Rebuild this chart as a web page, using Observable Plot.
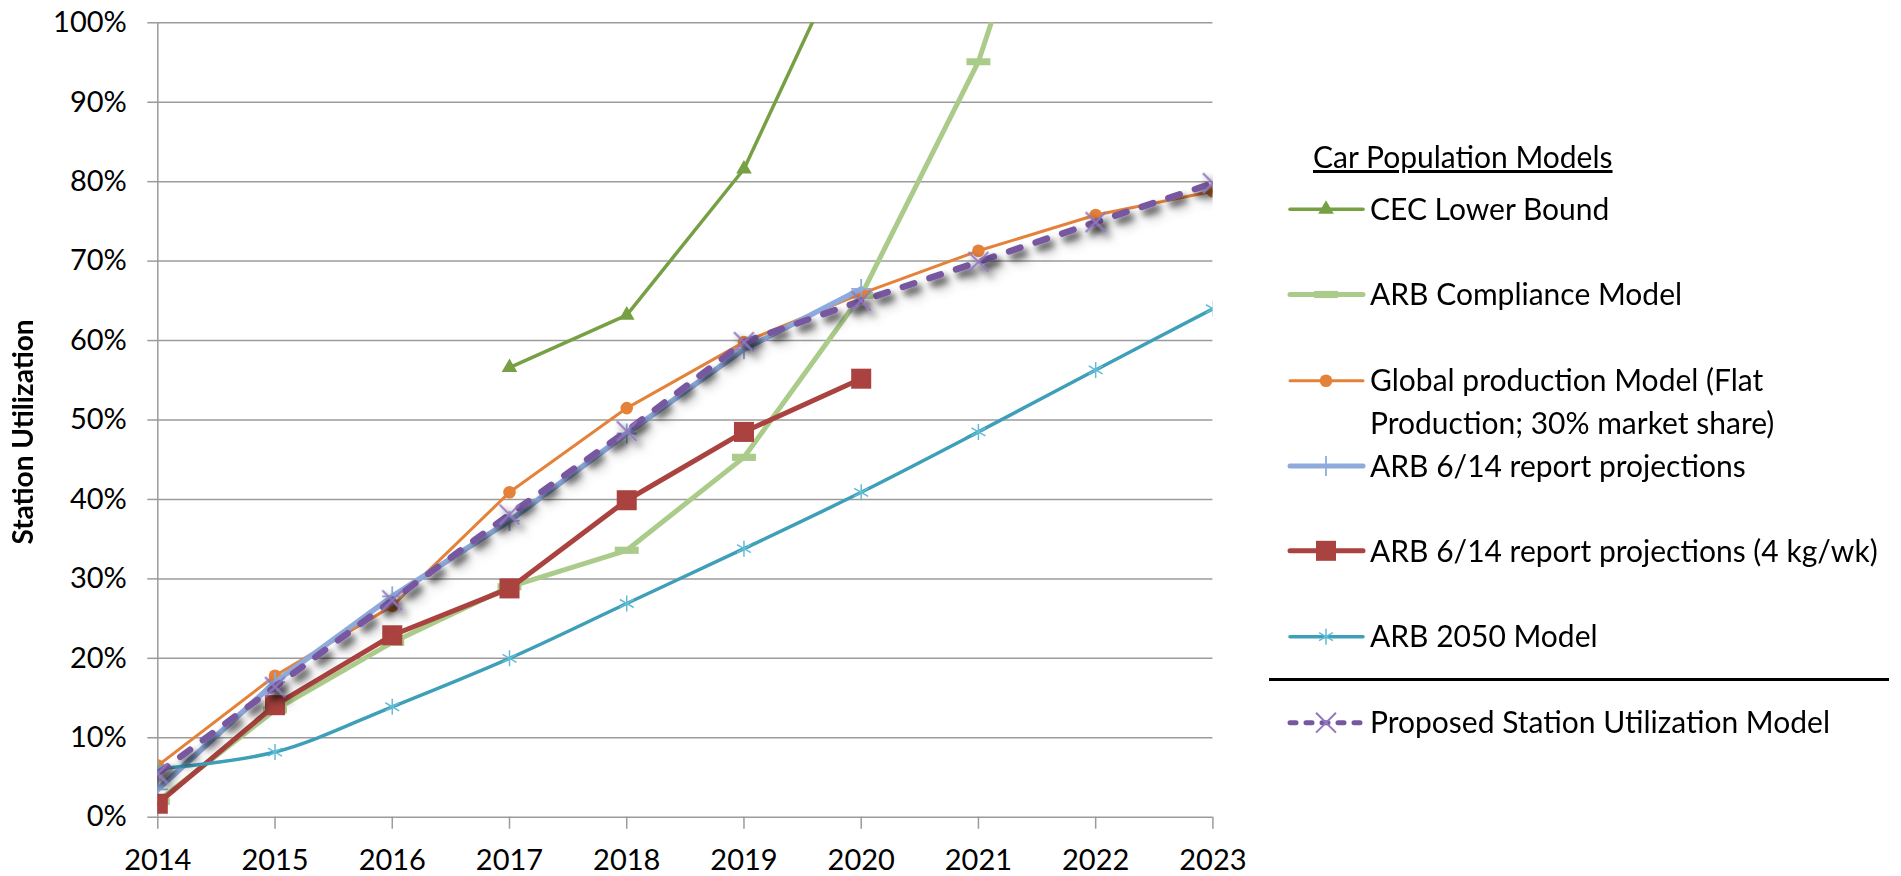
<!DOCTYPE html>
<html>
<head>
<meta charset="utf-8">
<script src="https://cdn.jsdelivr.net/npm/d3@7"></script>
<script src="https://cdn.jsdelivr.net/npm/@observablehq/plot@0.6"></script>
<style>
  html, body { margin: 0; padding: 0; background: #fff; }
  #chart { position: relative; width: 1901px; height: 876px; overflow: hidden; font-family: Lato, sans-serif; }
  #chart svg.overlay { position: absolute; left: 0; top: 0; pointer-events: none; }
</style>
</head>
<body>
<div id="chart"></div>
<script>
// Station utilization (%) by year under each car population model
const years = [2014, 2015, 2016, 2017, 2018, 2019, 2020, 2021, 2022, 2023];
const yTicks = [0, 10, 20, 30, 40, 50, 60, 70, 80, 90, 100];

const cecLowerBound    = [null, null, null, 56.6, 63.2, 81.6, 113.2, null, null, null];
const arbCompliance    = [2.0, 13.5, 22.0, 29.0, 33.6, 45.3, 65.7, 95.1, 140.0, null];
const globalProduction = [6.5, 17.8, 26.6, 40.9, 51.5, 59.8, 65.9, 71.3, 75.8, 78.8];
const arbReport        = [3.5, 17.0, 27.8, 37.3, 48.3, 58.9, 66.5, null, null, null];
const arbReport4kg     = [1.7, 14.1, 22.9, 28.8, 39.9, 48.5, 55.2, null, null, null];
const arb2050          = [6.1, 8.2, 13.9, 20.0, 26.9, 33.8, 40.9, 48.5, 56.3, 64.0];
const proposedModel    = [5.5, 16.4, 27.3, 38.1, 48.6, 59.8, 65.0, 69.9, 74.9, 79.8];

// horizontal bar marker used by the compliance series
const barSymbol = {
  draw(context, size) {
    const w = Math.sqrt(size), h = w * 0.3;
    context.rect(-w / 2, -h / 2, w, h);
  }
};

const series = [
  {name: "CEC Lower Bound", values: cecLowerBound, stroke: "#77A044", width: 3.5,
   symbol: "triangle", r: 5.8, fill: "#77A044", mstroke: "none", mwidth: 0},
  {name: "ARB Compliance Model", values: arbCompliance, stroke: "#AACB89", width: 5,
   symbol: barSymbol, r: 13.5, fill: "#AACB89", mstroke: "none", mwidth: 0},
  {name: ["Global production Model (Flat", "Production; 30% market share)"], values: globalProduction,
   stroke: "#E5823A", width: 3, symbol: "circle", r: 6.3, fill: "#E5823A", mstroke: "none", mwidth: 0},
  {name: "ARB 6/14 report projections", values: arbReport, stroke: "#8FAADC", width: 5.5,
   symbol: "plus", r: 6.5, fill: "none", mstroke: "#8FAADC", mwidth: 1.8},
  {name: "ARB 6/14 report projections (4 kg/wk)", values: arbReport4kg, stroke: "#AA423F", width: 5,
   symbol: "square", r: 11.3, fill: "#AA423F", mstroke: "none", mwidth: 0},
  {name: "ARB 2050 Model", values: arb2050, stroke: "#3E9FB8", width: 3.5, curve: "catmull-rom",
   symbol: "asterisk", r: 7.6, fill: "none", mstroke: "#62BCD6", mwidth: 1.5},
  {name: "Proposed Station Utilization Model", values: proposedModel, stroke: "#7758A0", width: 6.5,
   dash: "12,16", symbol: "times", r: 9.1, fill: "none", mstroke: "#9077BF", mwidth: 2, shadow: true}
];

function rows(s) {
  return years.map((year, i) => ({year, value: s.values[i]})).filter(d => d.value != null);
}

const W = 1901, H = 876;
const marks = [
  Plot.gridY(yTicks, {stroke: "#9b9b9b", strokeOpacity: 1, strokeWidth: 1.5}),
  Plot.axisY(yTicks, {tickSize: 10, tickPadding: 21, fontSize: 29, stroke: "#9b9b9b", strokeWidth: 1.5,
    fill: "#000", tickFormat: d => d + "%", label: null}),
  Plot.axisX(years, {tickSize: 12, tickPadding: 20, fontSize: 29, stroke: "#9b9b9b", strokeWidth: 1.5,
    fill: "#000", tickFormat: d => String(d), label: null}),
  Plot.ruleX([2014], {stroke: "#9b9b9b", strokeWidth: 1.5})
];

for (const s of series) {
  const data = rows(s);
  const tag = s.shadow ? "shadowed" : "series";
  marks.push(Plot.line(data, {
    x: "year", y: "value", stroke: s.stroke, strokeWidth: s.width, curve: s.curve || "linear",
    strokeDasharray: s.dash, strokeLinecap: "round", strokeLinejoin: "round", clip: true,
    ariaDescription: tag
  }));
  marks.push(Plot.dot(data, {
    x: "year", y: "value", symbol: s.symbol, r: s.r, fill: s.fill, stroke: s.mstroke,
    strokeWidth: s.mwidth, clip: true, ariaDescription: tag
  }));
}

const plot = Plot.plot({
  width: W, height: H,
  marginLeft: 157.3, marginRight: W - 1212.4, marginTop: 22.3, marginBottom: H - 816.7,
  x: {type: "linear", domain: [2014, 2023]},
  y: {type: "linear", domain: [0, 100]},
  style: {fontFamily: "Lato, sans-serif", color: "#000", background: "transparent", overflow: "visible"},
  marks
});

// soft drop shadow under the proposed model
const svgNS = "http://www.w3.org/2000/svg";
const defs = document.createElementNS(svgNS, "defs");
defs.innerHTML = `<filter id="dropShadow" x="-20%" y="-20%" width="140%" height="140%" filterUnits="objectBoundingBox">
  <feGaussianBlur in="SourceAlpha" stdDeviation="3.5"/>
  <feOffset dx="4" dy="5" result="blur"/>
  <feFlood flood-color="#000" flood-opacity="0.45"/>
  <feComposite in2="blur" operator="in" result="shadow"/>
  <feMerge><feMergeNode in="shadow"/><feMergeNode in="SourceGraphic"/></feMerge>
</filter>`;
plot.insertBefore(defs, plot.firstChild);
const shadowed = new Set(plot.querySelectorAll('g[aria-description="shadowed"]'));
plot.querySelectorAll('g[stroke="#7758A0"], g[stroke="#9077BF"]').forEach(g => shadowed.add(g));
shadowed.forEach(g => g.setAttribute("filter", "url(#dropShadow)"));

const chart = document.getElementById("chart");
chart.appendChild(plot);

// overlay: axis title and legend
const overlay = d3.select(chart).append("svg")
  .attr("class", "overlay").attr("width", W).attr("height", H)
  .style("font-family", "Lato, sans-serif");

overlay.append("text")
  .attr("transform", "translate(33,432) rotate(-90)")
  .attr("text-anchor", "middle")
  .attr("font-size", 28).attr("font-weight", 700).attr("fill", "#000")
  .text("Station Utilization");

const legendFont = 30;
const capShift = legendFont * 0.358;
overlay.append("text")
  .attr("x", 1313).attr("y", 168)
  .attr("font-size", legendFont).attr("fill", "#000")
  .attr("text-decoration", "underline")
  .text("Car Population Models");

const rowY = [209.3, 294.5, 380.7, 466, 550.8, 636.7, 722.7];
const lineGap = 42.3;
const symbolMap = {triangle: d3.symbolTriangle, circle: d3.symbolCircle, plus: d3.symbolPlus,
  square: d3.symbolSquare, asterisk: d3.symbolAsterisk, times: d3.symbolTimes};

series.forEach((s, i) => {
  const y = rowY[i];
  const g = overlay.append("g");
  g.append("line")
    .attr("x1", 1290).attr("x2", 1363).attr("y1", y).attr("y2", y)
    .attr("stroke", s.stroke).attr("stroke-width", s.dash ? 5 : Math.min(s.width, 5))
    .attr("stroke-linecap", "round")
    .attr("stroke-dasharray", s.dash ? "6,10" : null);
  const type = typeof s.symbol === "string" ? symbolMap[s.symbol] : s.symbol;
  g.append("path")
    .attr("transform", `translate(1326,${y})`)
    .attr("d", d3.symbol(type, Math.PI * s.r * s.r)())
    .attr("fill", s.fill).attr("stroke", s.mstroke === "none" ? null : s.mstroke)
    .attr("stroke-width", s.mwidth);
  const names = Array.isArray(s.name) ? s.name : [s.name];
  names.forEach((t, k) => {
    g.append("text")
      .attr("x", 1370).attr("y", y + capShift + k * lineGap)
      .attr("font-size", legendFont).attr("fill", "#000")
      .text(t);
  });
});

// divider above the proposed model entry
overlay.append("line")
  .attr("x1", 1269).attr("x2", 1889).attr("y1", 679.5).attr("y2", 679.5)
  .attr("stroke", "#000").attr("stroke-width", 3);
</script>
</body>
</html>
